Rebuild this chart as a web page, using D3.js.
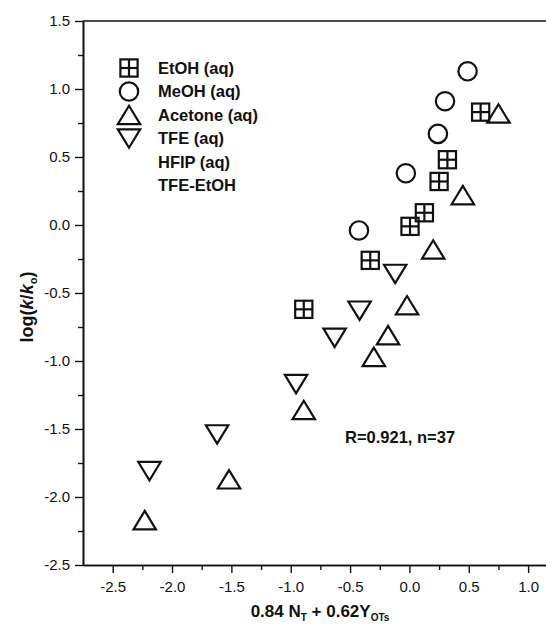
<!DOCTYPE html>
<html>
<head>
<meta charset="utf-8">
<script src="https://cdn.jsdelivr.net/npm/d3@7"></script>
<style>
  body { margin: 0; background: #fff; }
  text { font-family: Arial, "Liberation Sans", sans-serif; fill: #111; }
</style>
</head>
<body>
<svg id="chart"></svg>
<script>
// Legend entries (HFIP and TFE-EtOH have no marker drawn)
const seriesNames = ["EtOH (aq)", "MeOH (aq)", "Acetone (aq)", "TFE (aq)", "HFIP (aq)", "TFE-EtOH"];
const seriesShapes = ["square", "circle", "up", "down", null, null];

// Data
const etohX = [-0.89, -0.33, 0.005, 0.126, 0.25, 0.32, 0.60];
const etohY = [-0.62, -0.26, -0.01, 0.09, 0.32, 0.48, 0.83];
const meohX = [-0.425, -0.03, 0.24, 0.30, 0.49];
const meohY = [-0.04, 0.38, 0.67, 0.91, 1.13];
const acetoneX = [-2.23, -1.52, -0.89, -0.30, -0.18, -0.02, 0.20, 0.45, 0.75];
const acetoneY = [-2.17, -1.87, -1.36, -0.97, -0.81, -0.59, -0.18, 0.22, 0.82];
const tfeX = [-2.19, -1.62, -0.955, -0.63, -0.42, -0.12];
const tfeY = [-1.81, -1.54, -1.17, -0.83, -0.63, -0.36];

const xTicks = [-2.5, -2.0, -1.5, -1.0, -0.5, 0.0, 0.5, 1.0];
const xMinor = [-2.25, -1.75, -1.25, -0.75, -0.25, 0.25, 0.75];
const yTicks = [-2.5, -2.0, -1.5, -1.0, -0.5, 0.0, 0.5, 1.0, 1.5];
const yMinor = [-2.25, -1.75, -1.25, -0.75, -0.25, 0.25, 0.75, 1.25];

const width = 546, height = 626;
const plotLeft = 83, plotTop = 21, plotBottom = 565;

const x = d3.scaleLinear().domain([-2.75, 1.25]).range([plotLeft, plotLeft + 4 * 118.7]);
const y = d3.scaleLinear().domain([-2.5, 1.5]).range([plotBottom, plotTop]);

const svg = d3.select("#chart")
    .attr("width", width)
    .attr("height", height);

const ink = "#111";

// Axes
svg.append("g")
    .attr("transform", `translate(0,${plotBottom})`)
    .call(d3.axisBottom(x).tickValues(xTicks).tickSize(8).tickSizeOuter(0).tickPadding(8)
        .tickFormat(d => d.toFixed(1)));
svg.append("g")
    .attr("transform", `translate(0,${plotBottom})`)
    .call(d3.axisBottom(x).tickValues(xMinor).tickSize(5).tickSizeOuter(0).tickFormat(""));

svg.append("g")
    .attr("transform", `translate(${plotLeft},0)`)
    .call(d3.axisLeft(y).tickValues(yTicks).tickSize(8).tickSizeOuter(0).tickPadding(5)
        .tickFormat(d => d.toFixed(1)));
svg.append("g")
    .attr("transform", `translate(${plotLeft},0)`)
    .call(d3.axisLeft(y).tickValues(yMinor).tickSize(5).tickSizeOuter(0).tickFormat(""));

svg.selectAll(".domain").attr("stroke", ink).attr("stroke-width", 1.6);
svg.selectAll(".tick line").attr("stroke", ink).attr("stroke-width", 1.4);
svg.selectAll(".tick text").style("font-size", "15px").attr("fill", "#222");

// top frame line
svg.append("line")
    .attr("x1", plotLeft).attr("x2", x(1.25))
    .attr("y1", plotTop).attr("y2", plotTop)
    .attr("stroke", ink).attr("stroke-width", 1.6);

// Marker drawing
function drawMarker(g, shape) {
    const s = 8.6, w = 11.2, h = 9.2;
    g.attr("fill", "none").attr("stroke", ink).attr("stroke-width", 2.2)
        .attr("stroke-linejoin", "miter");
    if (shape === "square") {
        g.append("rect").attr("x", -s).attr("y", -s).attr("width", 2 * s).attr("height", 2 * s);
        g.append("line").attr("x1", -s).attr("x2", s).attr("y1", 0).attr("y2", 0);
        g.append("line").attr("x1", 0).attr("x2", 0).attr("y1", -s).attr("y2", s);
    } else if (shape === "circle") {
        g.append("circle").attr("r", 9.2);
    } else if (shape === "up") {
        g.append("path").attr("d", `M${-w},${h}L${w},${h}L0,${-h}Z`);
    } else if (shape === "down") {
        g.append("path").attr("d", `M${-w},${-h}L${w},${-h}L0,${h}Z`);
    }
}

function plotSeries(xs, ys, shape) {
    svg.append("g").selectAll("g")
        .data(xs.map((v, i) => [v, ys[i]]))
        .enter()
        .append("g")
        .attr("transform", d => `translate(${x(d[0])},${y(d[1])})`)
        .each(function() { drawMarker(d3.select(this), shape); });
}

plotSeries(etohX, etohY, "square");
plotSeries(meohX, meohY, "circle");
plotSeries(acetoneX, acetoneY, "up");
plotSeries(tfeX, tfeY, "down");

// Legend
const legend = svg.append("g").attr("transform", "translate(129,68)");
seriesNames.forEach((name, i) => {
    const row = legend.append("g").attr("transform", `translate(0,${i * 23.5})`);
    if (seriesShapes[i]) drawMarker(row.append("g"), seriesShapes[i]);
    row.append("text")
        .attr("x", 29)
        .attr("dy", "0.36em")
        .style("font-size", "16.5px")
        .style("font-weight", "bold")
        .text(name);
});

// Annotation
svg.append("text")
    .attr("x", 345).attr("y", 443)
    .style("font-size", "16.5px").style("font-weight", "bold")
    .text("R=0.921, n=37");

// X axis title
const xt = svg.append("text")
    .attr("x", 320).attr("y", 617)
    .attr("text-anchor", "middle")
    .style("font-size", "17px").style("font-weight", "bold");
xt.append("tspan").text("0.84 N");
xt.append("tspan").attr("dy", 3.5).style("font-size", "10px").text("T");
xt.append("tspan").attr("dy", -3.5).text(" + 0.62Y");
xt.append("tspan").attr("dy", 3.5).style("font-size", "10px").text("OTs");

// Y axis title
const yt = svg.append("text")
    .attr("transform", "translate(33,307) rotate(-90)")
    .attr("text-anchor", "middle")
    .style("font-size", "18px").style("font-weight", "bold");
yt.append("tspan").text("log(");
yt.append("tspan").style("font-style", "italic").text("k");
yt.append("tspan").text("/");
yt.append("tspan").style("font-style", "italic").text("k");
yt.append("tspan").attr("dy", 4).style("font-size", "11px").text("o");
yt.append("tspan").attr("dy", -4).text(")");
</script>
</body>
</html>
